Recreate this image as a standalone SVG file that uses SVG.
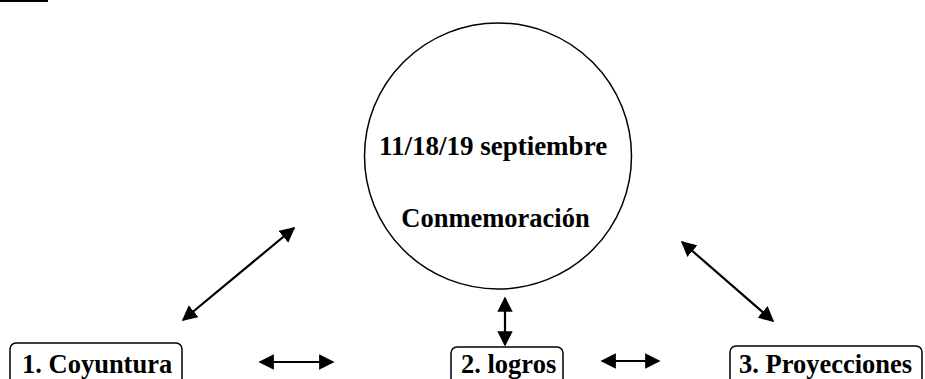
<svg xmlns="http://www.w3.org/2000/svg" width="925" height="379" viewBox="0 0 925 379">
<style>
text{font-family:"Liberation Serif","Times New Roman",serif;font-weight:bold;font-size:26.5px;fill:#000}
.box{fill:#fff;stroke:#000;stroke-width:1.5}
.c{stroke:#000;stroke-width:2.2;fill:none;marker-start:url(#ah);marker-end:url(#ah)}
</style>
<defs>
<marker id="ah" viewBox="0 0 10 10" refX="9" refY="5" markerWidth="7" markerHeight="7" orient="auto-start-reverse" markerUnits="strokeWidth">
<path d="M0,0 L10,5 L0,10 z" fill="#000"/>
</marker>
</defs>
<rect x="0" y="0" width="48" height="2" fill="#000"/>
<g id="center">
<ellipse cx="498" cy="156" rx="133.5" ry="133" fill="#fff" stroke="#000" stroke-width="1.5"/>
<text x="493" y="155" text-anchor="middle" style="font-size:27px">11/18/19 septiembre</text>
<text x="495.5" y="227" text-anchor="middle">Conmemoración</text>
</g>
<g id="n1">
<rect class="box" x="10" y="343" width="172" height="50" rx="6"/>
<text x="22" y="373">1. Coyuntura</text>
</g>
<g id="n2">
<rect class="box" x="451" y="347" width="112" height="50" rx="6"/>
<text x="461" y="373">2. logros</text>
</g>
<g id="n3">
<rect class="box" x="730" y="346" width="192" height="50" rx="6"/>
<text x="739" y="373">3. Proyecciones</text>
</g>
<g id="connectors">
<line class="c" x1="183" y1="320" x2="294" y2="228"/>
<line class="c" x1="682" y1="242" x2="773" y2="321"/>
<line class="c" x1="505" y1="298" x2="505" y2="345"/>
<line class="c" x1="260" y1="362" x2="333" y2="362"/>
<line class="c" x1="602" y1="361" x2="659" y2="361"/>
</g>
</svg>
